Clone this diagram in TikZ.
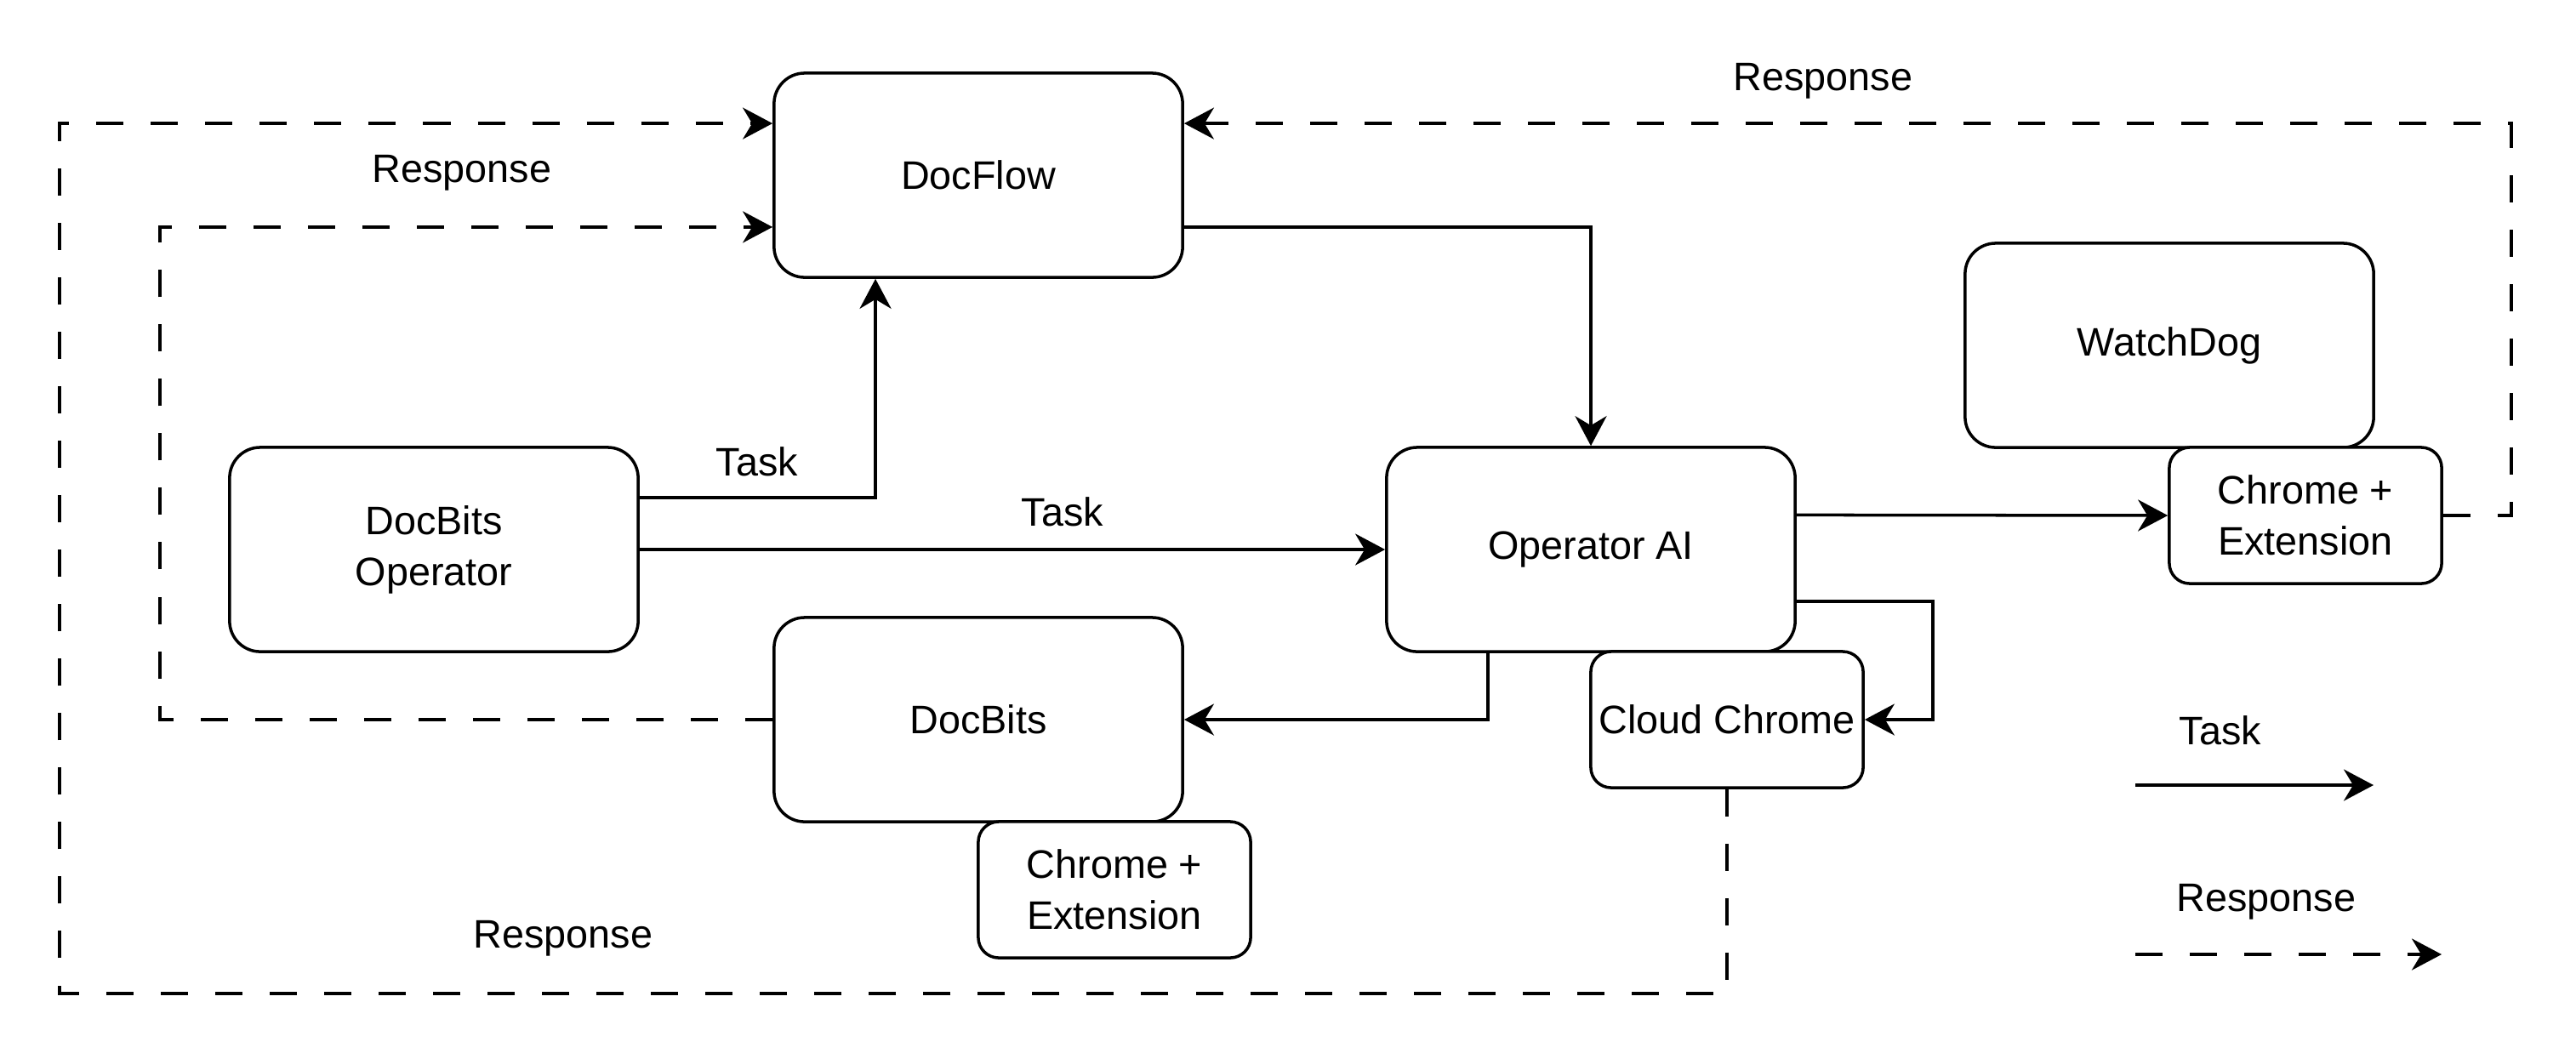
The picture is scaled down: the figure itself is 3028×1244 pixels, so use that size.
\documentclass[tikz,border=0pt]{standalone}
\usepackage{fontspec}
\setmainfont{Liberation Sans}
\usetikzlibrary{arrows.meta,calc}

\begin{document}
\begin{tikzpicture}[x=0.01cm,y=-0.01cm,
    > = {Stealth[length=0.35cm,width=0.37cm,inset=0.11cm]},
    font=\fontsize{13.3}{17}\selectfont,
    bigbox/.style={draw,line width=1pt,fill=white,rounded corners=0.36cm,
        minimum width=4.8cm,minimum height=2.4cm,align=center,inner sep=0pt},
    smallbox/.style={bigbox,rounded corners=0.24cm,minimum width=3.2cm,minimum height=1.6cm},
    task/.style={->,line width=1pt},
    resp/.style={->,line width=1pt,dash pattern=on 0.32cm off 0.32cm}]
    \useasboundingbox (0,0) rectangle (3028,1244);

    % boxes
    \node[bigbox] (docflow) at (1150,206) {DocFlow};
    \node[bigbox] (dbo) at (510,646) {DocBits\\Operator};
    \node[bigbox] (opai) at (1870,646) {Operator AI};
    \node[bigbox] (watchdog) at (2550,406) {WatchDog};
    \node[smallbox] (chromeR) at (2710,606) {Chrome +\\Extension};
    \node[bigbox] (docbits) at (1150,846) {DocBits};
    \node[smallbox] (chromeB) at (1310,1046) {Chrome +\\Extension};
    \node[smallbox] (cloud) at (2030,846) {Cloud Chrome};

    % tasks
    \draw[task] ($(docflow.south east)!0.25!(docflow.north east)$) -| (opai.north);
    \draw[task] ($(dbo.north east)!0.25!(dbo.south east)$)
        -| ($(docflow.south west)!0.25!(docflow.south east)$);
    \draw[task] (dbo.east) -- (opai.west);
    \draw[task] ($(opai.north east)!1/3!(opai.south east)$) -- (chromeR.west);
    \draw[task] ($(opai.south west)!0.25!(opai.south east)$) |- (docbits.east);
    \draw[task] ($(opai.north east)!0.75!(opai.south east)$) -- ++(160,0) |- (cloud.east);

    % responses
    \draw[resp] (chromeR.east) -- ++(80,0) |- ($(docflow.north east)!0.25!(docflow.south east)$);
    \draw[resp] (docbits.west) -- ++(-720,0) |- ($(docflow.north west)!0.75!(docflow.south west)$);
    \draw[resp] (cloud.south) -- ++(0,240) -- ++(-1960,0)
        |- ($(docflow.north west)!0.25!(docflow.south west)$);

    % labels
    \node (lblRespTop) at (2143,95) {Response};
    \node (lblRespLeft) at (543,203) {Response};
    \node (lblRespBot) at (662,1103) {Response};
    \node (lblTaskUp) at (890,543) {Task};
    \node (lblTaskMid) at (1249,602) {Task};

    % legend
    \node (legTask) at (2610,859) {Task};
    \coordinate (legTaskA) at (2510,923);
    \draw[task] (legTaskA) -- ++(280,0);
    \node (legResp) at (2664,1060) {Response};
    \coordinate (legRespA) at (2510,1122);
    \draw[resp] (legRespA) -- ++(360,0);
\end{tikzpicture}
\end{document}
